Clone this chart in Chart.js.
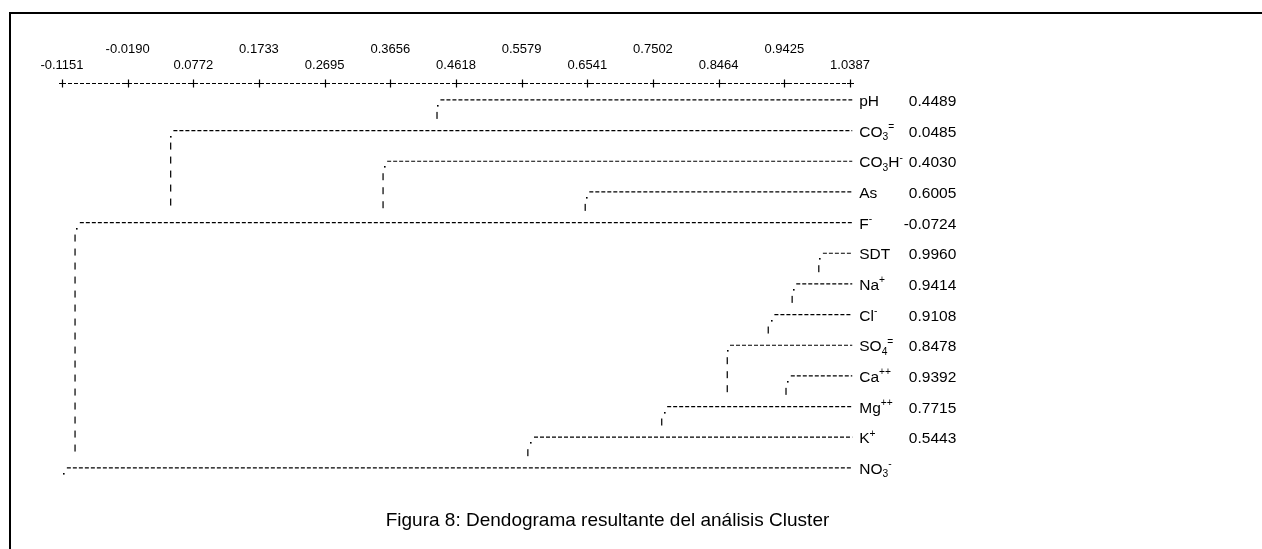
<!DOCTYPE html>
<html>
<head>
<meta charset="utf-8">
<script src="https://cdn.jsdelivr.net/npm/chart.js@4.4.1/dist/chart.umd.min.js"></script>
<style>
  html, body { margin: 0; padding: 0; background: #fff; }
  #page { position: relative; width: 1262px; height: 549px; overflow: hidden; background: #fff; }
  #frame { position: absolute; left: 9px; top: 12px; right: -5px; bottom: -5px;
           border-top: 2px solid #000; border-left: 2px solid #000; }
  #wrap { position: absolute; left: 0; top: 0; width: 1262px; height: 549px; }
</style>
</head>
<body>
<div id="page">
  <div id="frame"></div>
  <div id="wrap"><canvas id="chart"></canvas></div>
</div>
<script>
// ---------- data ----------
const rowLabels = ['pH', 'CO_3^=', 'CO_3H^-', 'As', 'F^-', 'SDT', 'Na^+', 'Cl^-', 'SO_4^=', 'Ca^{++}', 'Mg^{++}', 'K^+', 'NO_3^-'];
const rowValues = [0.4489, 0.0485, 0.4030, 0.6005, -0.0724, 0.9960, 0.9414, 0.9108, 0.8478, 0.9392, 0.7715, 0.5443, null];
// x (similarity) where each horizontal branch starts
const branchStart = [0.439, 0.048, 0.361, 0.657, -0.089, 0.999, 0.960, 0.928, 0.863, 0.952, 0.771, 0.576, -0.108];
// x of the vertical drop under each branch start, and the row it drops toward
const dropX = [0.434, 0.044, 0.355, 0.651, -0.096, 0.993, 0.954, 0.919, 0.859, 0.945, 0.763, 0.567, null];
const dropTo = [1, 4, 4, 4, 12, 6, 7, 8, 10, 10, 11, 12, null];
const branchEnd = 1.042;
const axisTicks = [-0.1151, -0.0190, 0.0772, 0.1733, 0.2695, 0.3656, 0.4618, 0.5579, 0.6541, 0.7502, 0.8464, 0.9425, 1.0387];
const axisTickLabels = ['-0.1151', '-0.0190', '0.0772', '0.1733', '0.2695', '0.3656', '0.4618', '0.5579', '0.6541', '0.7502', '0.8464', '0.9425', '1.0387'];
const caption = 'Figura 8: Dendograma resultante del análisis Cluster';

// ---------- build datasets ----------
const FONT = "'Liberation Sans', Arial, Helvetica, sans-serif";
const datasets = [];
rowLabels.forEach((lab, i) => {
  datasets.push({
    data: [{ x: branchStart[i], y: i }, { x: branchEnd, y: i }],
    showLine: true, borderColor: '#000', borderWidth: 1.2, borderDash: [4, 2],
    pointRadius: 0, clip: false
  });
  if (dropTo[i] !== null) {
    datasets.push({
      data: [{ x: dropX[i], y: i + 0.39 }, { x: dropX[i], y: dropTo[i] - 0.37 }],
      showLine: true, borderColor: '#111', borderWidth: 1.3, borderDash: [7, 7],
      pointRadius: 0, clip: false
    });
  }
});

function drawRich(ctx, str, x, y, size) {
  let i = 0;
  const parts = [];
  while (i < str.length) {
    const c = str[i];
    if (c === '_' || c === '^') {
      let t;
      if (str[i + 1] === '{') { const e = str.indexOf('}', i); t = str.slice(i + 2, e); i = e + 1; }
      else { t = str[i + 1]; i += 2; }
      parts.push({ t, mode: c === '_' ? 'sub' : 'sup' });
    } else {
      let j = i;
      while (j < str.length && str[j] !== '_' && str[j] !== '^') j++;
      parts.push({ t: str.slice(i, j), mode: 'n' });
      i = j;
    }
  }
  let cx = x;
  parts.forEach(p => {
    if (p.mode === 'n') {
      ctx.font = size + 'px ' + FONT;
      ctx.fillText(p.t, cx, y);
    } else {
      ctx.font = (size * 0.66) + 'px ' + FONT;
      ctx.fillText(p.t, cx, p.mode === 'sub' ? y + size * 0.22 : y - size * 0.42);
    }
    cx += ctx.measureText(p.t).width;
  });
}

const decor = {
  id: 'decor',
  afterDraw(chart) {
    const ctx = chart.ctx, xs = chart.scales.x, ys = chart.scales.y;
    const axisY = Math.round(chart.chartArea.top) - 0.5;
    ctx.save();
    ctx.strokeStyle = '#000';
    ctx.lineWidth = 1;
    // dashed axis line
    ctx.setLineDash([4, 2]);
    ctx.beginPath();
    ctx.moveTo(xs.getPixelForValue(axisTicks[0]), axisY);
    ctx.lineTo(xs.getPixelForValue(axisTicks[axisTicks.length - 1]), axisY);
    ctx.stroke();
    ctx.setLineDash([]);
    ctx.lineWidth = 1.2;
    axisTicks.forEach(v => {
      const px = Math.round(xs.getPixelForValue(v)) + 0.5;
      ctx.beginPath();
      ctx.moveTo(px, axisY - 4); ctx.lineTo(px, axisY + 4);
      ctx.moveTo(px - 3.5, axisY); ctx.lineTo(px + 3.5, axisY);
      ctx.stroke();
    });
    ctx.fillStyle = '#000';
    rowLabels.forEach((lab, i) => {
      const py = ys.getPixelForValue(i);
      const dx = xs.getPixelForValue(branchStart[i]) - 3.5;
      ctx.fillRect(Math.round(dx), Math.round(py + 5), 1.6, 1.6);
      ctx.textBaseline = 'alphabetic';
      ctx.textAlign = 'left';
      drawRich(ctx, lab, xs.getPixelForValue(branchEnd) + 7, py + 6, 15.5);
      if (rowValues[i] !== null) {
        ctx.font = '15.5px ' + FONT;
        ctx.textAlign = 'right';
        ctx.fillText(rowValues[i].toFixed(4), xs.getPixelForValue(branchEnd) + 104, py + 6);
      }
    });
    ctx.restore();
  }
};

new Chart(document.getElementById('chart'), {
  type: 'scatter',
  data: { datasets },
  options: {
    responsive: true,
    maintainAspectRatio: false,
    animation: false,
    events: [],
    layout: { padding: { left: 10, right: 57, top: 14, bottom: 0 } },
    plugins: {
      legend: { display: false },
      tooltip: { enabled: false },
      title: {
        display: true, position: 'bottom', text: caption, color: '#000',
        font: { family: FONT, size: 19, weight: 'normal', lineHeight: 1.2 },
        padding: { top: 27, bottom: 16.6 }
      }
    },
    scales: {
      x: {
        type: 'linear', position: 'top', min: axisTicks[0], max: axisTicks[axisTicks.length - 1],
        afterBuildTicks: s => { s.ticks = axisTicks.map(v => ({ value: v })); },
        afterFit: s => { s.height = 70; },
        grid: { display: false, drawTicks: false },
        border: { display: false },
        ticks: {
          autoSkip: false, maxRotation: 0, padding: 11, color: '#000',
          font: { family: FONT, size: 13, lineHeight: '16px' },
          callback: (v, idx) => idx % 2 === 0 ? ['', axisTickLabels[idx]] : [axisTickLabels[idx], '']
        }
      },
      y: {
        type: 'linear', position: 'left', reverse: true, min: -0.52, max: 12.48,
        afterFit: s => { s.width = 52; },
        grid: { display: false }, border: { display: false }, ticks: { display: false }
      },
      yr: {
        type: 'linear', position: 'right', min: 0, max: 1,
        afterFit: s => { s.width = 355; },
        grid: { display: false }, border: { display: false }, ticks: { display: false }
      }
    }
  },
  plugins: [decor]
});
</script>
</body>
</html>
